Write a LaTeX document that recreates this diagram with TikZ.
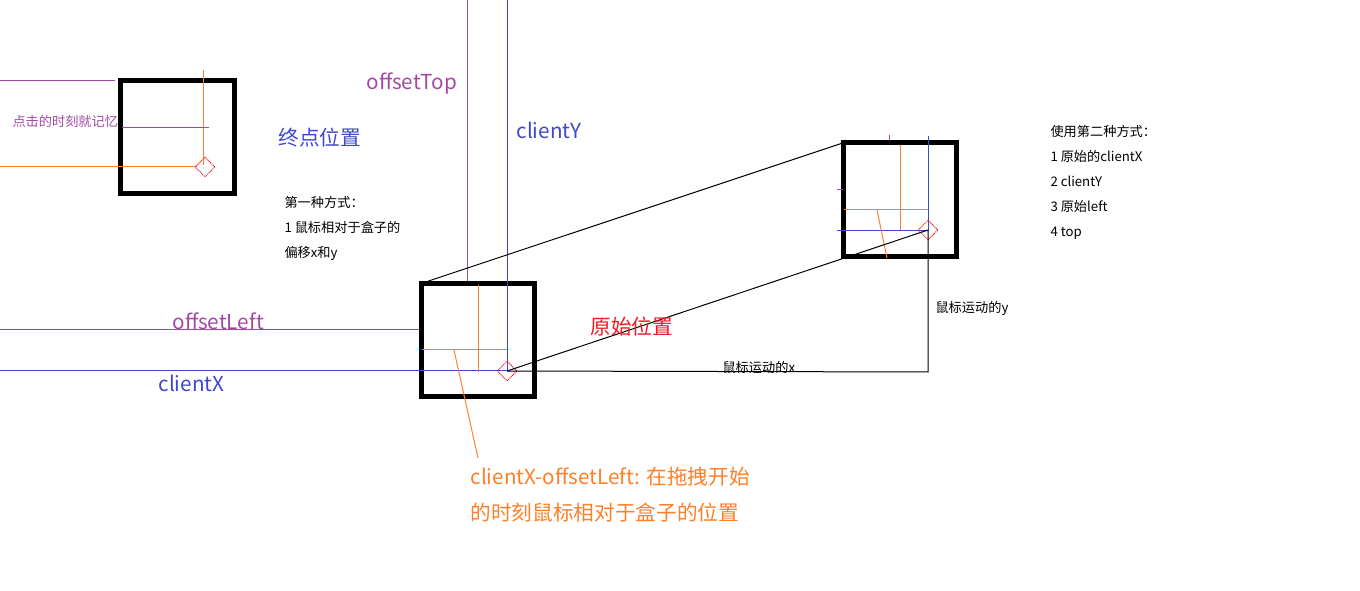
\documentclass[tikz,border=0pt]{standalone}
\usepackage{fontspec}
\setmainfont{Noto Sans CJK SC}
\usetikzlibrary{shapes.geometric,positioning}
\definecolor{paintpurple}{RGB}{163,73,164}
\definecolor{paintblue}{RGB}{63,72,204}
\definecolor{paintorange}{RGB}{255,127,39}
\definecolor{paintred}{RGB}{237,28,36}
\tikzset{
  dragbox/.style={draw, line width=3.75pt, minimum size=85pt, inner sep=0pt, outer sep=0pt},
  mouse/.style={draw=paintred, dash pattern=on 0.75pt off 0.6pt, diamond, minimum size=15pt, inner sep=0pt},
  thin line/.style={line width=0.75pt},
  bigtext/.style={font=\fontsize{15.5}{27}\selectfont, inner sep=0pt, anchor=base west},
  smalltext/.style={font=\fontsize{9.9}{18.75}\selectfont, inner sep=0pt, anchor=base west, align=left}
}
\begin{document}
\begin{tikzpicture}[x=0.75pt, y=-0.75pt, thin line]
\useasboundingbox (0,0) rectangle (1360,591);

% the three boxes
\node[dragbox] (endbox) at (177.5,136.75) {};
\node[dragbox] (start) at (478.25,340) {};
\node[dragbox] (moved) at (900,199.5) {};

% mouse points
\coordinate (m1) at (205,167);
\coordinate (m2) at (507,371);
\coordinate (m3) at (928,230);
\coordinate (corner) at (928,372);

% end position box
\draw[paintpurple] (0,81) -- (115,81);
\draw[paintorange] (203,70) -- (203,165);
\draw[paintpurple] (122,128) -- (209,128);
\draw[paintorange] (0,167) -- (197,167);
\node[mouse] (d1) at (m1) {};

% start box
\draw[paintpurple] (0,330) -- (419,330);
\draw[paintpurple] (467.7,0) -- (467.7,281);
\draw[paintblue] (507,0) -- (m2);
\draw[paintblue] (0,371) -- (m2);
\draw[paintorange] (478,285) -- (478,372);
\draw[paintorange] (422,350) -- (507,350);
\draw[paintorange] (454,350) -- (478,458);
\node[mouse] (d2) at (m2) {};

% moved box
\draw[paintorange] (900,145) -- (900,231);
\draw[paintorange] (844,210) -- (929,210);
\draw[paintblue] (928,136) -- (m3);
\draw[paintblue] (837,231) -- (929,231);
\draw[paintpurple] (889,135) -- (889,140);
\draw[paintpurple] (837,190) -- (843,190);
\draw[paintorange] (877,210) -- (887,258);
\node[mouse] (d3) at (m3) {};

% movement
\draw (start.north west) -- (moved.north west);
\draw (m2) -- (m3);
\draw (m2) -- (corner) -- (m3);

% labels (base anchor = last line)
\node[bigtext, paintpurple] (offtop) at (366,90) {offsetTop};
\node[bigtext, paintblue] (cly) at (516,139) {clientY};
\node[bigtext, paintblue] (endlabel) at (278,145.5) {终点位置};
\node[bigtext, paintpurple] (offleft) at (172,330) {offsetLeft};
\node[bigtext, paintblue] (clx) at (158,392) {clientX};
\node[bigtext, paintred] (startlabel) at (590,334.5) {原始位置};
\node[smalltext, paintpurple] (remember) at (12,127) {点击的时刻就记忆};
\node[smalltext] (way1) at (284,257.5) {第一种方式：\\1 鼠标相对于盒子的\\偏移x和y};
\node[smalltext] (way2) at (1050,237) {使用第二种方式：\\1 原始的clientX\\2 clientY\\3 原始left\\4 top};
\node[smalltext] (movex) at (722,372.5) {鼠标运动的x};
\node[smalltext] (movey) at (935,313) {鼠标运动的y};
\node[bigtext, paintorange, align=left] (diff) at (470,520) {clientX-offsetLeft: 在拖拽开始\\的时刻鼠标相对于盒子的位置};
\end{tikzpicture}
\end{document}
